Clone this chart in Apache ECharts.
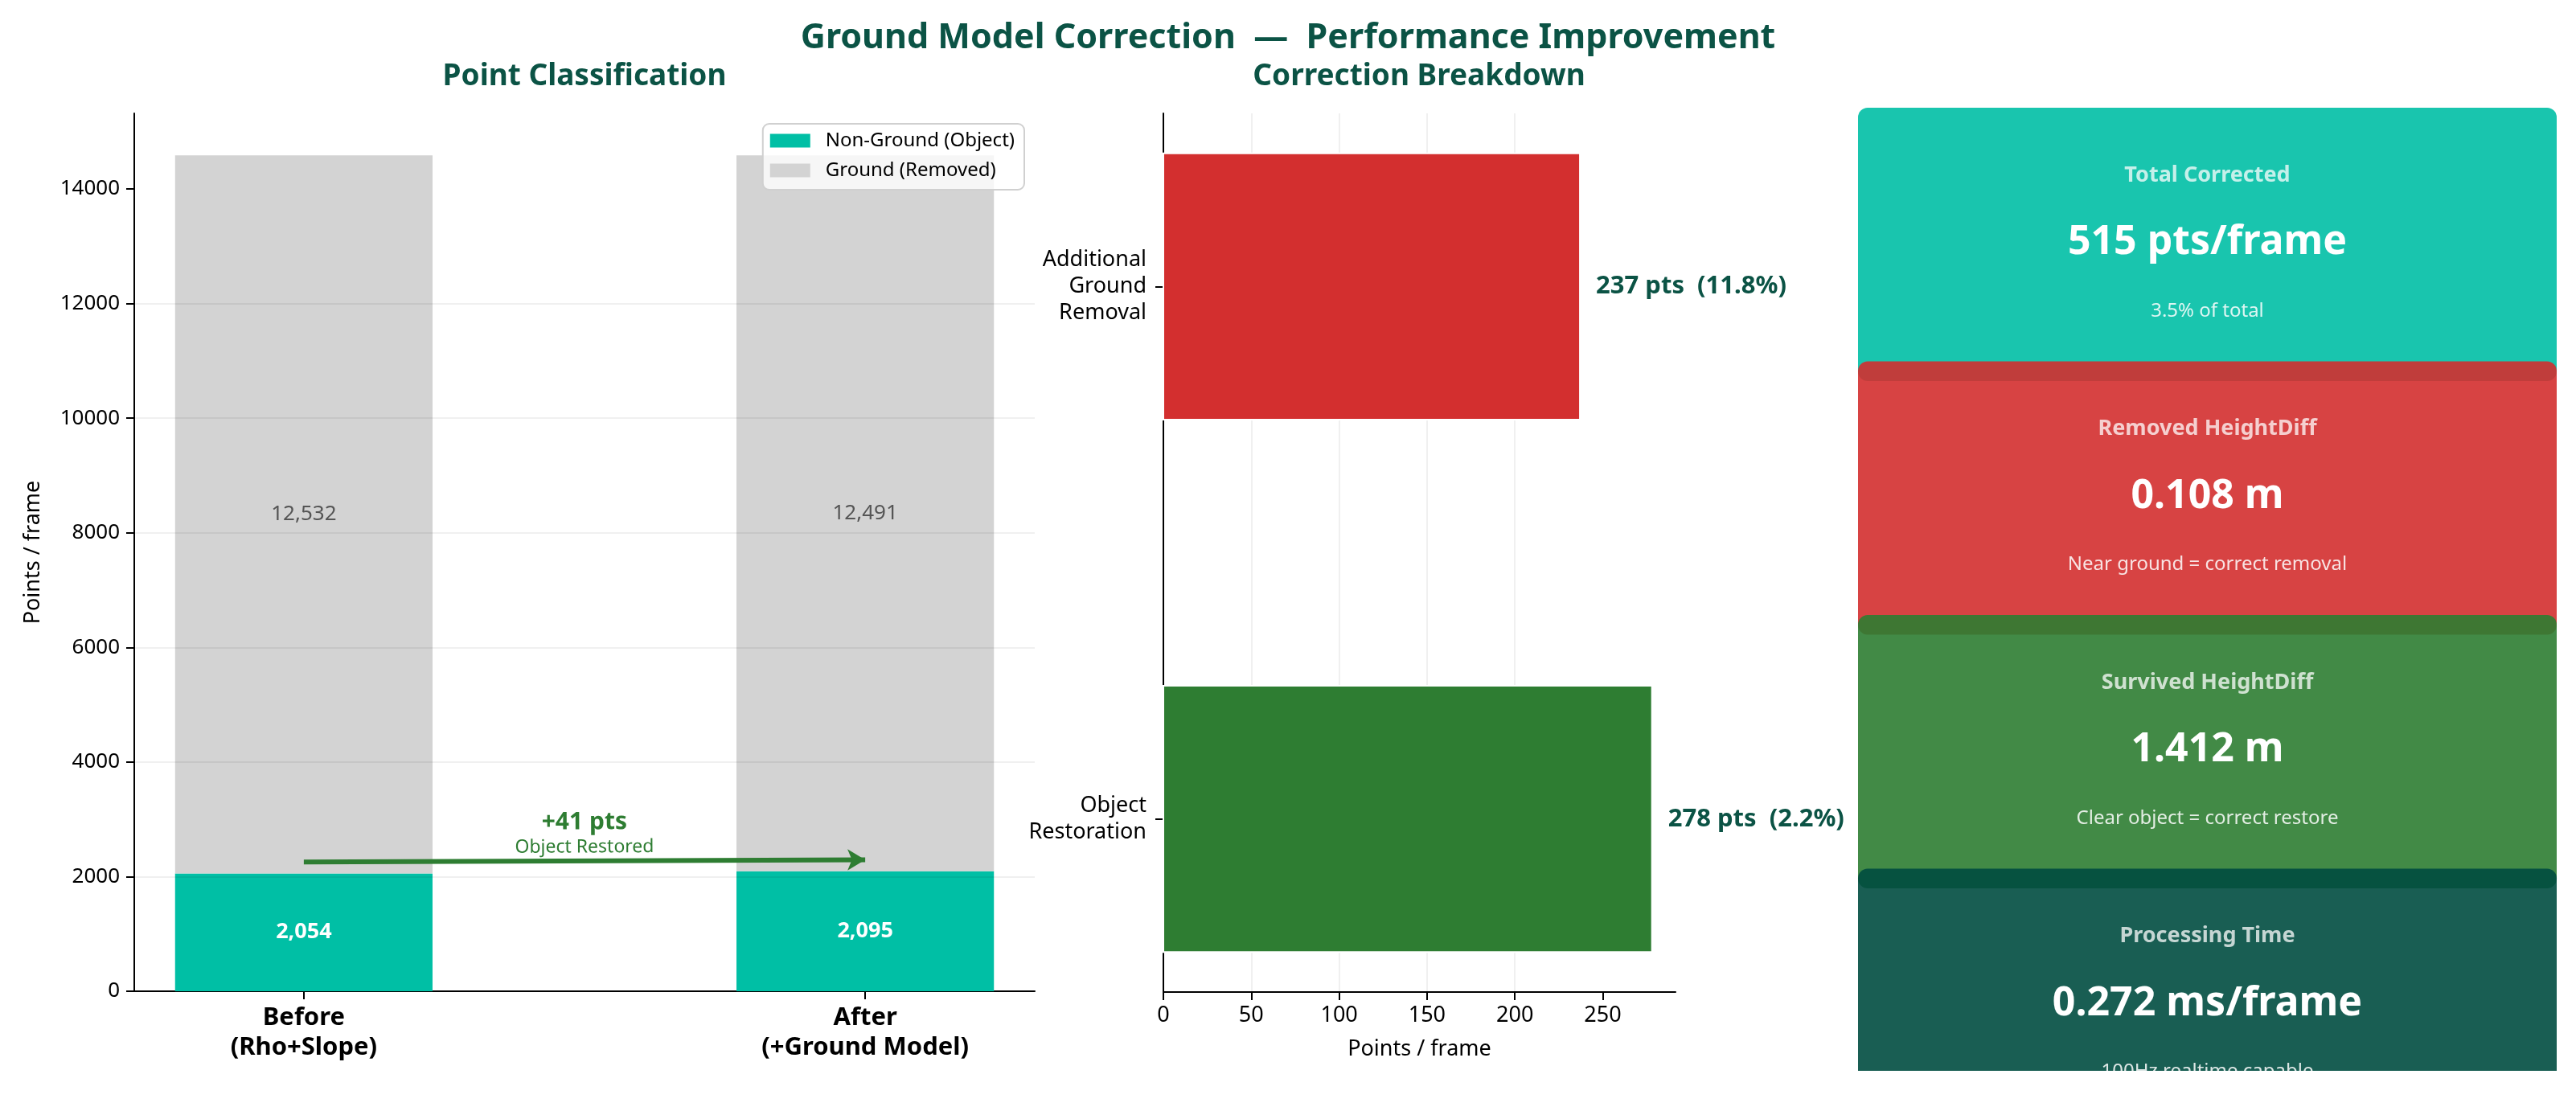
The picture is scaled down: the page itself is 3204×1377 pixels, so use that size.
<!DOCTYPE html>
<html>
<head>
<meta charset="utf-8">
<title>Ground Model Correction</title>
<script src="https://cdn.jsdelivr.net/npm/echarts@6/dist/echarts.min.js"></script>
<style>
  html, body { margin: 0; padding: 0; background: #fff; }
  #chart { width: 3204px; height: 1377px; }
</style>
</head>
<body>
<div id="chart"></div>
<script>
// left panel: point classification per stage
const stageLabels = ['Before\n(Rho+Slope)', 'After\n(+Ground Model)'];
const nonGroundPts = [2054, 2095];
const groundPts = [12532, 12491];
const pointTicks = [0, 2000, 4000, 6000, 8000, 10000, 12000, 14000];

// middle panel: correction breakdown (top to bottom)
const breakdownNames = ['Additional\nGround\nRemoval', 'Object\nRestoration'];
const breakdownPts = [237, 278];
const breakdownPct = [11.8, 2.2];
const breakdownTicks = [0, 50, 100, 150, 200, 250];

// right panel: summary cards
const cardTitles = ['Total Corrected', 'Removed HeightDiff', 'Survived HeightDiff', 'Processing Time'];
const heightDiffs = [0.108, 1.412];
const procTimeMs = 0.272;
const cardNoteText = ['Near ground = correct removal', 'Clear object = correct restore', '100Hz realtime capable'];

const FONT = "'Noto Sans', 'Noto Sans CJK KR', sans-serif";
const TITLE_COLOR = '#0b5345';
const BAR_HALF = 0.2293;   // half bar width, in category units
const HBAR_HALF = 0.25;

const totalCorrected = breakdownPts.reduce((a, b) => a + b, 0);
const totalPts = nonGroundPts[0] + groundPts[0];
const cardValues = [
    totalCorrected + ' pts/frame',
    heightDiffs[0].toFixed(3) + ' m',
    heightDiffs[1].toFixed(3) + ' m',
    procTimeMs.toFixed(3) + ' ms/frame',
];
const cardNotes = [(totalCorrected / totalPts * 100).toFixed(1) + '% of total'].concat(cardNoteText);
const cardColors = ['rgba(0,191,165,0.9)', 'rgba(211,47,47,0.9)', 'rgba(46,125,50,0.9)', 'rgba(0,77,64,0.9)'];

function fmt(v) {
    return Number(v).toLocaleString('en-US');
}

function buildCards() {
    const items = [];
    const x0 = 2311, w = 869, top0 = 134, step = 315.5, h = 340;
    cardTitles.forEach((t, i) => {
        const top = top0 + i * step;
        items.push({
            type: 'rect',
            shape: {x: x0, y: top, width: w, height: h, r: 12},
            style: {fill: cardColors[i]},
        });
        items.push({
            type: 'text', x: x0 + w / 2, y: top + 84,
            style: {text: t, fill: 'rgba(255,255,255,0.75)', font: 'bold 27px ' + FONT, align: 'center', verticalAlign: 'middle'},
        });
        items.push({
            type: 'text', x: x0 + w / 2, y: top + 168,
            style: {text: cardValues[i], fill: '#fff', font: 'bold 50px ' + FONT, align: 'center', verticalAlign: 'middle'},
        });
        items.push({
            type: 'text', x: x0 + w / 2, y: top + 253,
            style: {text: cardNotes[i], fill: 'rgba(255,255,255,0.85)', font: '24px ' + FONT, align: 'center', verticalAlign: 'middle'},
        });
    });
    // panel is clipped at the bottom
    items.push({
        type: 'rect',
        shape: {x: 2290, y: 1332, width: 914, height: 45},
        style: {fill: '#fff'},
    });
    return items;
}

// stacked segment: [stage index, base, value]
function stackedSegment(fill, labelStyle) {
    return (params, api) => {
        const i = api.value(0);
        const base = api.value(1);
        const v = api.value(2);
        const p0 = api.coord([i - BAR_HALF, base + v]);
        const p1 = api.coord([i + BAR_HALF, base]);
        const mid = api.coord([i, base + v / 2]);
        return {
            type: 'group',
            children: [
                {
                    type: 'rect',
                    shape: {x: p0[0], y: p0[1], width: p1[0] - p0[0], height: p1[1] - p0[1]},
                    style: {fill: fill},
                },
                {
                    type: 'text', x: mid[0], y: mid[1],
                    style: Object.assign({text: fmt(v), align: 'center', verticalAlign: 'middle'}, labelStyle),
                },
            ],
        };
    };
}

function getOption() {
    const n = breakdownNames.length;
    const option = {
        animation: false,
        textStyle: {fontFamily: FONT},
        graphic: [
            {
                type: 'text', x: 1602, y: 48,
                style: {text: 'Ground Model Correction  \u2014  Performance Improvement', fill: TITLE_COLOR,
                    font: 'bold 43px ' + FONT, align: 'center', verticalAlign: 'middle'},
            },
            {
                type: 'text', x: 727, y: 95,
                style: {text: 'Point Classification', fill: TITLE_COLOR, font: 'bold 37px ' + FONT, align: 'center', verticalAlign: 'middle'},
            },
            {
                type: 'text', x: 1765, y: 95,
                style: {text: 'Correction Breakdown', fill: TITLE_COLOR, font: 'bold 37px ' + FONT, align: 'center', verticalAlign: 'middle'},
            },
        ].concat(buildCards()),
        legend: {
            data: ['Non-Ground (Object)', 'Ground (Removed)'],
            orient: 'vertical',
            right: 3204 - 1274,
            top: 154,
            itemWidth: 50,
            itemHeight: 17,
            itemGap: 13,
            icon: 'rect',
            padding: [9, 12, 12, 9],
            backgroundColor: 'rgba(255,255,255,0.8)',
            borderColor: '#d0d0d0',
            borderWidth: 2,
            borderRadius: 8,
            textStyle: {fontSize: 24, color: '#000', padding: [0, 0, 0, 14]},
        },
        grid: [
            {left: 167, right: 3204 - 1287, top: 141, bottom: 144},
            {left: 1447, right: 3204 - 2084, top: 141, bottom: 143},
        ],
        xAxis: [
            {
                gridIndex: 0,
                type: 'value',
                min: -0.302,
                max: 1.302,
                axisLine: {onZero: false, lineStyle: {color: '#000', width: 2}},
                axisTick: {customValues: [0, 1], length: 10, lineStyle: {color: '#000', width: 2}},
                axisLabel: {
                    customValues: [0, 1],
                    formatter: (v) => stageLabels[Math.round(v)],
                    fontSize: 31, fontWeight: 'bold', color: '#000', lineHeight: 37, margin: 15,
                },
                splitLine: {show: false},
            },
            {
                gridIndex: 1,
                type: 'value',
                min: 0,
                max: 291.4,
                interval: 50,
                name: 'Points / frame',
                nameLocation: 'middle',
                nameGap: 58,
                nameTextStyle: {fontSize: 27, color: '#000'},
                axisLine: {onZero: false, lineStyle: {color: '#000', width: 2}},
                axisTick: {customValues: breakdownTicks, length: 10, lineStyle: {color: '#000', width: 2}},
                axisLabel: {customValues: breakdownTicks, fontSize: 27, color: '#000', margin: 16},
                splitLine: {show: true, showMinLine: false, showMaxLine: false, lineStyle: {color: 'rgba(0,0,0,0.06)', width: 2}},
            },
        ],
        yAxis: [
            {
                gridIndex: 0,
                type: 'value',
                min: 0,
                max: 15320,
                interval: 2000,
                z: 3,
                name: 'Points / frame',
                nameLocation: 'middle',
                nameGap: 112,
                nameTextStyle: {fontSize: 27, color: '#000'},
                axisLine: {show: true, onZero: false, lineStyle: {color: '#000', width: 2}},
                axisTick: {show: true, customValues: pointTicks, length: 10, lineStyle: {color: '#000', width: 2}},
                axisLabel: {customValues: pointTicks, fontSize: 26, color: '#000', margin: 18, formatter: (v) => String(v)},
                splitLine: {show: true, showMinLine: false, showMaxLine: false, lineStyle: {color: 'rgba(0,0,0,0.06)', width: 2}},
            },
            {
                gridIndex: 1,
                type: 'value',
                min: -0.325,
                max: 1.325,
                axisLine: {show: true, onZero: false, lineStyle: {color: '#000', width: 2}},
                axisTick: {show: true, customValues: [0, 1], length: 10, lineStyle: {color: '#000', width: 2}},
                axisLabel: {
                    customValues: [0, 1],
                    formatter: (v) => breakdownNames[n - 1 - Math.round(v)],
                    fontSize: 27, color: '#000', lineHeight: 33, margin: 21, align: 'right',
                },
                splitLine: {show: false},
            },
        ],
        series: [
            {
                name: 'Non-Ground (Object)',
                type: 'custom',
                xAxisIndex: 0,
                yAxisIndex: 0,
                itemStyle: {color: '#00bfa5'},
                encode: {x: 0, y: 2},
                data: nonGroundPts.map((v, i) => [i, 0, v]),
                renderItem: stackedSegment('#00bfa5', {fill: '#fff', font: 'bold 27px ' + FONT}),
            },
            {
                name: 'Ground (Removed)',
                type: 'custom',
                xAxisIndex: 0,
                yAxisIndex: 0,
                itemStyle: {color: '#d3d3d3'},
                encode: {x: 0, y: 2},
                data: groundPts.map((v, i) => [i, nonGroundPts[i], v]),
                renderItem: stackedSegment('#d3d3d3', {fill: '#555', font: '26px ' + FONT}),
            },
            {
                name: 'arrow',
                type: 'line',
                xAxisIndex: 0,
                yAxisIndex: 0,
                data: [],
                z: 5,
                markLine: {
                    silent: true,
                    symbol: ['none', 'arrow'],
                    symbolSize: [20, 22],
                    lineStyle: {color: '#2e7d32', width: 6, type: 'solid'},
                    label: {
                        show: true,
                        position: 'middle',
                        distance: 3,
                        formatter: '{a|+' + (nonGroundPts[1] - nonGroundPts[0]) + ' pts}\n{b|Object Restored}',
                        rich: {
                            a: {fontSize: 30, fontWeight: 'bold', color: '#2e7d32', lineHeight: 34, fontFamily: FONT},
                            b: {fontSize: 23, color: '#2e7d32', lineHeight: 28, fontFamily: FONT},
                        },
                    },
                    data: [[
                        {coord: [0, nonGroundPts[0] + 200]},
                        {coord: [1, nonGroundPts[1] + 200]},
                    ]],
                },
            },
            {
                name: 'Breakdown',
                type: 'custom',
                xAxisIndex: 1,
                yAxisIndex: 1,
                encode: {x: 0, y: 1},
                data: breakdownPts.map((v, i) => [v, n - 1 - i, i]),
                renderItem: (params, api) => {
                    const v = api.value(0);
                    const y = api.value(1);
                    const i = api.value(2);
                    const p0 = api.coord([0, y + HBAR_HALF]);
                    const p1 = api.coord([v, y - HBAR_HALF]);
                    const mid = api.coord([v, y]);
                    return {
                        type: 'group',
                        children: [
                            {
                                type: 'rect',
                                shape: {x: p0[0], y: p0[1], width: p1[0] - p0[0], height: p1[1] - p0[1]},
                                style: {fill: ['#d32f2f', '#2e7d32'][i], stroke: '#fff', lineWidth: 2},
                            },
                            {
                                type: 'text',
                                x: mid[0] + 20,
                                y: mid[1],
                                style: {
                                    text: v + ' pts  (' + breakdownPct[i] + '%)',
                                    fill: TITLE_COLOR,
                                    font: 'bold 31px ' + FONT,
                                    align: 'left',
                                    verticalAlign: 'middle',
                                },
                            },
                        ],
                    };
                },
            },
        ],
    };
    return option;
}

function main() {
    const chart = echarts.init(document.getElementById('chart'));
    chart.setOption(getOption());
    window.addEventListener('resize', () => chart.resize());
}

main();
</script>
</body>
</html>
